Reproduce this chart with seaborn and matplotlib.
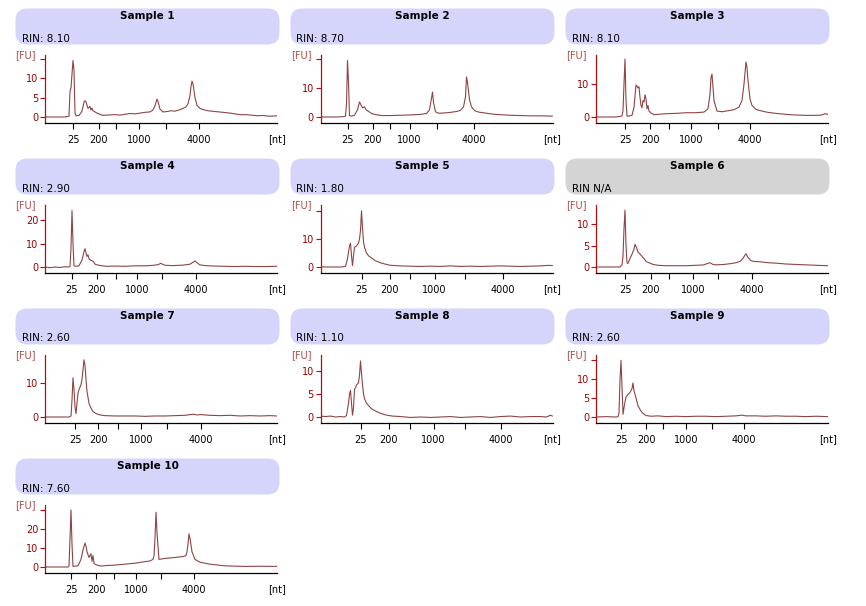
import matplotlib
matplotlib.use('Agg')
import matplotlib.pyplot as plt
from matplotlib.patches import FancyBboxPatch
import seaborn as sns

# ---- data (t = migration position, fu = fluorescence) ----
names = [f'Sample {i}' for i in range(1, 11)]
rin = ['RIN: 8.10', 'RIN: 8.70', 'RIN: 8.10', 'RIN: 2.90', 'RIN: 1.80',
       'RIN N/A', 'RIN: 2.60', 'RIN: 1.10', 'RIN: 2.60', 'RIN: 7.60']
ladder_labels = ['25', '200', '', '1000', '', '4000']

# ladder positions (25, 200, 500, 1000, 2000, 4000 nt) on each run's time axis
ladder = [
    [28, 54, 71, 94, 121, 154],
    [27, 52, 69, 89, 116, 153],
    [29, 54, 73, 95, 122, 154],
    [27, 52, 71, 92, 117, 151],
    [41, 69, 89, 114, 144, 182],
    [29, 55, 73, 97, 122, 156],
    [30, 53, 73, 96, 122, 156],
    [40, 68, 89, 113, 144, 180],
    [25, 50, 67, 90, 116, 148],
    [26, 51, 69, 91, 116, 149],
]
fu_ticks = [[0, 5, 10, 15], [0, 10, 20], [0, 10], [0, 10, 20], [0, 10, 20],
            [0, 5, 10], [0, 10], [0, 5, 10], [0, 5, 10, 15], [0, 10, 20, 30]]
fu_max = [15.9, 21.4, 18.8, 26.4, 22.1, 14.5, 18.2, 13.5, 16.4, 32.6]

s1_t = [0, 20, 24, 25, 26, 27, 28, 29, 30, 31, 34, 37, 39, 40, 41, 43, 45, 46, 47, 48, 50, 52, 55, 58,
        62, 70, 75, 80, 85, 90, 95, 100, 105, 108, 110, 112, 113, 115, 118, 122, 126, 130, 134, 138,
        141, 143, 145, 146, 147, 148, 150, 152, 155, 158, 163, 170, 178, 185, 190, 195, 200, 206,
        212, 218, 224, 232]
s1_fu = [0, 0, 0.2, 6.5, 7.5, 11, 14.5, 12, 1, 0.3, 0.4, 1.5, 3.8, 4.2, 3.9, 2.2, 2.7, 1.8, 2.3, 1.6,
         1.3, 1.0, 0.7, 0.4, 0.5, 0.6, 0.5, 0.7, 0.9, 0.8, 1.0, 1.2, 1.3, 1.8, 2.9, 4.6, 4.0, 2.0,
         1.3, 1.4, 1.6, 1.5, 1.8, 2.2, 2.6, 3.4, 5.5, 7.8, 9.2, 8.5, 5.0, 3.0, 2.2, 1.9, 1.6, 1.4,
         1.2, 1.0, 0.8, 0.6, 0.6, 0.5, 0.3, 0.4, 0.2, 0.3]

s2_t = [0, 15, 22, 25, 26, 27, 28, 29, 31, 34, 37, 39, 40, 42, 44, 46, 48, 50, 53, 57, 62, 70, 80,
        90, 100, 106, 109, 111, 112, 113, 115, 118, 124, 130, 136, 140, 143, 145, 146, 147, 149,
        151, 154, 158, 164, 172, 180, 190, 200, 210, 220, 232]
s2_fu = [0, 0, 0.1, 0.3, 4.5, 19.5, 12, 0.5, 0.3, 0.6, 2.5, 5.2, 4.5, 3.2, 3.5, 2.3, 2.0, 1.4, 1.0,
         0.7, 0.5, 0.5, 0.6, 0.7, 0.9, 1.2, 2.5, 6.5, 8.6, 5, 1.8, 1.3, 1.4, 1.6, 1.9, 2.3, 3.5, 7,
         13.8, 12, 6, 3.5, 2.2, 1.7, 1.4, 1.0, 0.8, 0.6, 0.5, 0.4, 0.4, 0.3]

s3_t = [0, 20, 26, 27, 28, 29, 30, 31, 33, 36, 38, 40, 41, 42, 43, 44, 45, 46, 47, 48, 49, 50, 51,
        52, 53, 55, 58, 62, 70, 80, 90, 100, 108, 112, 114, 115, 116, 118, 121, 126, 132, 138, 143,
        146, 148, 150, 151, 152, 154, 156, 160, 166, 172, 180, 190, 200, 210, 220, 226, 229, 232]
s3_fu = [0, 0, 0.3, 2, 10, 17.6, 5, 0.3, 0.3, 0.5, 3, 9.7, 9.3, 8.8, 9.2, 6, 3.5, 2.8, 5.0, 4.5,
         6.7, 5.5, 2.5, 3.5, 1.8, 1.2, 0.7, 0.8, 1.0, 1.1, 1.3, 1.3, 1.5, 2.5, 7, 12, 13, 5, 1.8,
         1.6, 1.9, 2.2, 3, 5, 10, 16.7, 15, 11, 5.5, 3.5, 2.3, 1.8, 1.4, 1.1, 0.8, 0.6, 0.5, 0.5,
         0.6, 1.0, 0.8]

s4_t = [0, 5, 10, 15, 20, 24, 25, 26, 27, 28, 29, 31, 34, 37, 39, 40, 41, 42, 43, 44, 46, 48, 50,
        53, 57, 62, 70, 80, 90, 100, 108, 113, 116, 118, 121, 128, 138, 145, 148, 150, 152, 155,
        160, 170, 180, 190, 200, 210, 220, 232]
s4_fu = [0, -0.3, 0, -0.2, 0.1, 0, 0.3, 8, 24, 10, 0.5, 0.3, 0.5, 3, 6.5, 7.8, 6, 4.5, 5.2, 3.5,
         2.8, 2.5, 1.2, 0.8, 0.5, 0.3, 0.4, 0.3, 0.5, 0.5, 0.7, 1.0, 1.6, 1.0, 0.7, 0.6, 0.8, 1.2,
         2.0, 2.6, 1.8, 0.9, 0.6, 0.4, 0.3, 0.2, 0.3, 0.2, 0.2, 0.3]

s5_t = [0, 10, 20, 25, 27, 29, 30, 31, 32, 33, 34, 36, 38, 39, 40, 41, 42, 43, 44, 46, 48, 51, 55,
        60, 65, 70, 80, 90, 100, 110, 120, 130, 140, 150, 160, 170, 180, 190, 200, 210, 220, 228,
        232]
s5_fu = [0, 0, 0, 0.2, 3, 7.5, 8.5, 4, 0.5, 4, 7, 7.5, 8.5, 10, 13, 20, 14, 9, 7, 5, 4, 3.2, 2.2,
         1.5, 1.0, 0.6, 0.4, 0.3, 0.2, 0.3, 0.2, 0.4, 0.2, 0.3, 0.2, 0.3, 0.4, 0.3, 0.2, 0.3, 0.4,
         0.6, 0.5]

s6_t = [0, 15, 24, 26, 27, 28, 29, 30, 31, 32, 34, 36, 38, 39, 40, 42, 44, 46, 48, 50, 53, 57, 62,
        70, 80, 90, 100, 108, 111, 114, 117, 120, 128, 135, 140, 144, 147, 149, 150, 152, 155, 158,
        165, 172, 180, 190, 200, 210, 220, 232]
s6_fu = [0, 0, 0, 0.5, 2.5, 9, 13.3, 5, 1, 0.8, 2, 3, 4.2, 5.3, 4.8, 3.5, 3.0, 2.5, 2.0, 1.3, 1.0,
         0.6, 0.4, 0.3, 0.3, 0.3, 0.4, 0.5, 0.8, 1.0, 0.6, 0.5, 0.6, 0.8, 1.0, 1.3, 2.0, 2.8, 3.1,
         2.2, 1.5, 1.3, 1.2, 1.0, 0.9, 0.7, 0.6, 0.5, 0.4, 0.3]

s7_t = [0, 15, 24, 26, 27, 28, 29, 30, 31, 32, 33, 34, 36, 37, 38, 39, 40, 41, 42, 44, 46, 48, 51,
        55, 60, 70, 80, 90, 100, 110, 120, 130, 140, 148, 152, 156, 165, 175, 185, 195, 205, 215,
        225, 232]
s7_fu = [0, 0, 0, 0.3, 5, 11.5, 8, 3, 1, 4, 7, 8, 9.5, 11, 14, 16.8, 15, 11, 7.5, 4.0, 2.6, 1.6,
         1.0, 0.6, 0.4, 0.3, 0.3, 0.3, 0.2, 0.3, 0.3, 0.4, 0.5, 0.8, 0.6, 0.7, 0.5, 0.4, 0.5, 0.3,
         0.4, 0.3, 0.4, 0.3]

s8_t = [0, 5, 10, 15, 20, 24, 26, 28, 29, 30, 31, 32, 33, 34, 35, 36, 37, 38, 39, 40, 41, 42, 43,
        44, 46, 48, 51, 55, 60, 66, 72, 80, 90, 100, 110, 120, 130, 140, 150, 160, 170, 180, 190,
        200, 210, 220, 226, 230, 232]
s8_fu = [0.2, 0.1, 0.2, 0.0, 0.1, 0, 0.3, 3, 5, 5.8, 3, 0.4, 2, 6.0, 6.4, 7, 7.2, 7.5, 9, 12.2,
         9.5, 7, 5, 4, 3, 2.5, 1.8, 1.3, 0.8, 0.4, 0.2, 0.1, -0.1, 0.0, -0.1, 0.0, 0.1, -0.1, 0.0,
         0.1, -0.1, 0.1, 0.2, 0.0, 0.1, 0.1, 0.0, 0.4, 0.2]

s9_t = [0, 10, 20, 22, 23, 24, 25, 26, 27, 28, 29, 30, 32, 34, 36, 37, 38, 40, 42, 44, 46, 50, 55,
        62, 70, 80, 90, 100, 110, 120, 130, 140, 146, 150, 160, 170, 180, 190, 200, 210, 220, 232]
s9_fu = [0, 0.1, 0, 0.1, 1, 10, 15, 8, 0.7, 2.5, 4, 5.2, 6.0, 6.5, 7.5, 9, 7, 5, 3, 2, 1.2, 0.4,
         0.2, 0.3, 0.1, 0.2, 0.1, 0.2, 0.2, 0.1, 0.2, 0.3, 0.5, 0.3, 0.3, 0.2, 0.3, 0.2, 0.2, 0.1,
         0.2, 0.1]

s10_t = [0, 15, 23, 24, 25, 26, 27, 28, 30, 33, 36, 38, 40, 41, 42, 44, 45, 46, 47, 48, 49, 50, 52,
         56, 62, 70, 80, 90, 100, 105, 108, 109, 110, 111, 112, 114, 120, 130, 138, 141, 142, 143,
         144, 145, 147, 150, 155, 165, 180, 200, 215, 232]
s10_fu = [0, 0, 0, 0.5, 15, 30, 12, 0.3, 0.5, 0.6, 4, 9, 12.6, 11, 8, 5, 6, 7, 3, 6, 2, 1.5, 1.0,
          0.5, 0.8, 1.0, 1.5, 2.0, 2.8, 3.2, 4.0, 6, 15, 28.8, 18, 4.0, 4.5, 5.0, 5.5, 6, 8, 12,
          17.4, 15, 8, 4, 2.5, 1.5, 0.6, 0.3, 0.4, 0.3]

traces = [(s1_t, s1_fu), (s2_t, s2_fu), (s3_t, s3_fu), (s4_t, s4_fu), (s5_t, s5_fu),
          (s6_t, s6_fu), (s7_t, s7_fu), (s8_t, s8_fu), (s9_t, s9_fu), (s10_t, s10_fu)]

# ---- styling ----
sns.set_style('white')
plt.rcParams['font.family'] = ['DejaVu Sans']
plt.rcParams['text.color'] = 'black'

HEADER = '#d5d5fb'
HEADER_NA = '#d4d4d4'
TRACE = '#8e4444'
RED = '#b01010'
DKRED = '#9a0000'

W, H = 866, 606
fig = plt.figure(figsize=(W / 100, H / 100), dpi=100)

for i in range(10):
    r, c = divmod(i, 3)

    # header box with sample name and RIN
    hx, hy = 15 + 275 * c, 8 + 150 * r
    hax = fig.add_axes([hx / W, 1 - (hy + 37) / H, 265 / W, 37 / H])
    hax.set_xlim(0, 265)
    hax.set_ylim(0, 37)
    hax.axis('off')
    fc = HEADER_NA if 'N/A' in rin[i] else HEADER
    hax.add_patch(FancyBboxPatch((0.5, 0.5), 264, 36, boxstyle='round,pad=0,rounding_size=12',
                                 fc=fc, ec='none'))
    hax.text(132.5, 29, names[i], ha='center', va='center', fontsize=7.5, fontweight='bold',
             color='black')
    hax.text(6.5, 6.5, rin[i], ha='left', va='center', fontsize=7.5, color='black')

    # electropherogram
    ax = fig.add_axes([(45 + 275.5 * c) / W, 1 - (123 + 150 * r) / H, 232 / W, 68 / H])
    t, fu = traces[i]
    sns.lineplot(x=t, y=fu, ax=ax, color=TRACE, linewidth=0.8, estimator=None)
    ax.set_xlim(0, 232)
    ax.set_ylim(-fu_max[i] * 6 / 62, fu_max[i])
    ax.set_xticks(ladder[i])
    ax.set_xticklabels(ladder_labels)
    yt = fu_ticks[i]
    ax.set_yticks(yt)
    ax.set_yticklabels([('' if v > 0.9 * fu_max[i] else str(v)) for v in yt])
    ax.set_xlabel('')
    ax.set_ylabel('')

    for s in ['top', 'right']:
        ax.spines[s].set_visible(False)
    ax.spines['left'].set_color(RED)
    ax.spines['bottom'].set_color('black')
    ax.spines['left'].set_linewidth(0.9)
    ax.spines['bottom'].set_linewidth(0.9)
    ax.tick_params(axis='x', bottom=True, direction='out', length=4.3, width=0.8, pad=4.5,
                   labelsize=7, colors='black')
    ax.tick_params(axis='y', left=True, direction='out', length=3.6, width=0.8, pad=1.2,
                   labelsize=7, color=RED, labelcolor=DKRED)

    ax.annotate('[FU]', xy=(0, 1), xycoords='axes fraction', xytext=(-6.5, 0),
                textcoords='offset points', ha='right', va='center', fontsize=7, color='#b04848')
    ax.annotate('[nt]', xy=(1, 0), xycoords='axes fraction', xytext=(0, -8.3),
                textcoords='offset points', ha='center', va='top', fontsize=7, color='black')

fig.savefig('out.png', dpi=100, facecolor='white')
